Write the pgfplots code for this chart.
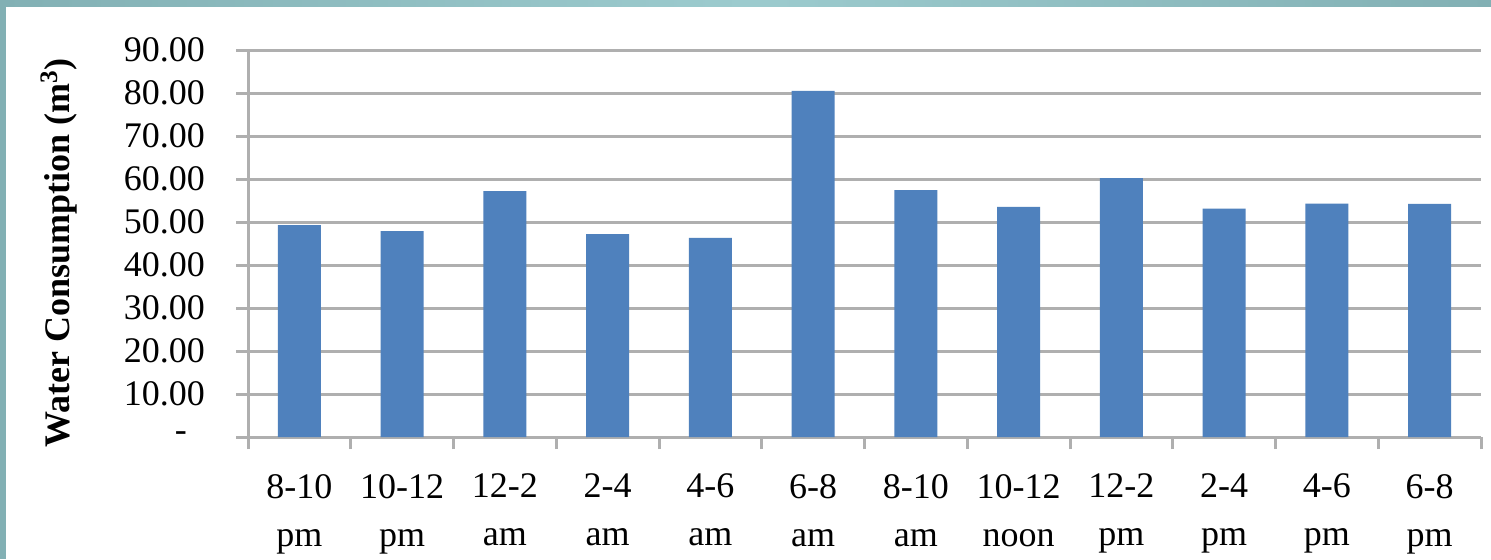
\documentclass[border=0pt]{standalone}
\usepackage{pgfplots}
\pgfplotsset{compat=1.18}
\usepackage{fontspec}
\setmainfont{Liberation Serif}

\definecolor{barblue}{HTML}{4F81BD}
\definecolor{gridgray}{HTML}{AFAFAF}
\definecolor{frameteal}{HTML}{82B0B4}
\definecolor{frameteallight}{HTML}{9CCBCE}

\begin{document}
\begin{tikzpicture}
% page area and the teal frame along the top and left edges
\path[use as bounding box] (0,0) rectangle (745.5pt,279.5pt);
\fill[white] (0,0) rectangle (745.5pt,279.5pt);
\shade[left color=frameteal, right color=frameteal, middle color=frameteallight]
  (0,276.5pt) rectangle (745.5pt,279.5pt);
\fill[frameteal] (0,0) rectangle (3pt,279.5pt);

\begin{axis}[
  at={(124pt,61pt)}, anchor=south west,
  scale only axis, width=616.5pt, height=193.5pt,
  xmin=-0.5, xmax=11.5, ymin=0, ymax=90,
  axis x line=bottom, axis y line=left,
  axis line style={gridgray, line width=1.5pt, -},
  tick align=outside,
  major tick length=6pt,
  tick style={gridgray, line width=1.5pt},
  ymajorgrids,
  grid style={gridgray, line width=1.5pt},
  ytick={0,10,...,90},
  yticklabels={{-\rule{9pt}{0pt}},10.00,20.00,30.00,40.00,50.00,60.00,70.00,80.00,90.00},
  yticklabel style={font=\fontsize{18}{21}\selectfont, xshift=-12pt},
  xtick={-0.5,0.5,...,11.5},
  xticklabels={},
  extra x ticks={0,1,2,3,4,5,6,7,8,9,10,11},
  extra x tick labels={{8-10\\[3pt]pm},{10-12\\[3pt]pm},{12-2\\[3pt]am},{2-4\\[3pt]am},
    {4-6\\[3pt]am},{6-8\\[3pt]am},{8-10\\[3pt]am},{10-12\\[3pt]noon},{12-2\\[3pt]pm},
    {2-4\\[3pt]pm},{4-6\\[3pt]pm},{6-8\\[3pt]pm}},
  extra x tick style={major tick length=0pt,
    xticklabel style={font=\fontsize{18}{21}\selectfont, align=center, yshift=-15pt}},
  every axis y label/.style={at={(axis description cs:-0.1533,0.4755)}, rotate=90, anchor=center},
  ylabel={\fontsize{18}{21}\selectfont\bfseries Water Consumption (m\textsuperscript{3})},
  ybar, bar width=0.42, bar shift=0pt,
]
\addplot[fill=barblue, draw=none] coordinates {
  (0,49.3) (1,47.9) (2,57.2) (3,47.2) (4,46.3) (5,80.5)
  (6,57.4) (7,53.5) (8,60.2) (9,53.1) (10,54.3) (11,54.2)
};
\end{axis}
\end{tikzpicture}
\end{document}
